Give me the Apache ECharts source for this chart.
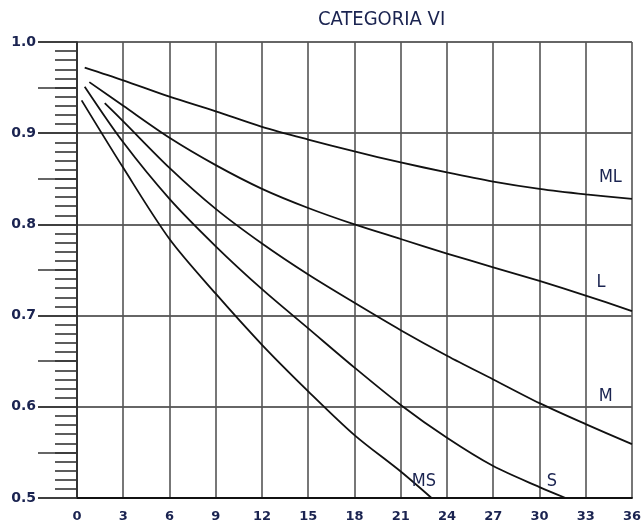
<!DOCTYPE html>
<html>
<head>
<meta charset="utf-8">
<script src="https://cdn.jsdelivr.net/npm/echarts@6/dist/echarts.min.js"></script>
<style>
  html, body { margin: 0; padding: 0; background: #fff; }
  #chart { width: 644px; height: 526px; }
</style>
</head>
<body>
<div id="chart"></div>
<script>
// curve readings [x, coefficient]
const ML = [[0.5, 0.972], [3, 0.958], [6, 0.940], [9, 0.924], [12, 0.907], [15, 0.893], [18, 0.880], [21, 0.868], [24, 0.857], [27, 0.847], [30, 0.839], [33, 0.833], [36, 0.828]];
const L = [[0.8, 0.956], [3, 0.930], [6, 0.895], [9, 0.865], [12, 0.839], [15, 0.818], [18, 0.800], [21, 0.784], [24, 0.768], [27, 0.753], [30, 0.738], [33, 0.722], [36, 0.705]];
const M = [[1.8, 0.933], [3, 0.913], [6, 0.862], [9, 0.817], [12, 0.779], [15, 0.745], [18, 0.714], [21, 0.684], [24, 0.656], [27, 0.630], [30, 0.604], [33, 0.581], [36, 0.559]];
const S = [[0.5, 0.951], [3, 0.890], [6, 0.828], [9, 0.776], [12, 0.729], [15, 0.686], [18, 0.643], [21, 0.602], [24, 0.566], [27, 0.535], [30, 0.512], [31.7, 0.5]];
const MS = [[0.3, 0.936], [3, 0.862], [6, 0.784], [9, 0.724], [12, 0.668], [15, 0.617], [18, 0.569], [21, 0.529], [23.0, 0.5]];

const curveNames = ["ML", "L", "M", "S", "MS"];
const curves = [ML, L, M, S, MS];
// where the name of each curve is written
const nameAt = [[34.6, 0.852], [34.0, 0.736], [34.3, 0.612], [30.8, 0.518], [22.5, 0.518]];

const xTicks = { min: 0, max: 36, step: 3 };
const yTicks = { min: 0.5, max: 1.0, step: 0.1 };

const navy = "#1a2350";

const chart = echarts.init(document.getElementById("chart"));

const lineSeries = curves.map((d, i) => ({
  name: curveNames[i],
  type: "line",
  data: d,
  smooth: 0.3,
  showSymbol: false,
  symbol: "none",
  lineStyle: { color: "#111", width: 1.8 },
  z: 5,
}));

chart.setOption({
  backgroundColor: "#fff",
  animation: false,
  title: {
    text: "CATEGORIA VI",
    left: 313,
    top: 5,
    textStyle: {
      fontFamily: "DejaVu Sans Condensed, DejaVu Sans",
      fontSize: 20,
      fontWeight: "normal",
      color: navy,
    },
  },
  grid: { left: 77, right: 12, top: 42, bottom: 28 },
  xAxis: {
    type: "value",
    min: xTicks.min,
    max: xTicks.max,
    interval: xTicks.step,
    axisLine: { show: true, lineStyle: { color: "#111", width: 2 } },
    axisTick: { show: false },
    axisLabel: {
      margin: 12,
      fontFamily: "DejaVu Sans",
      fontSize: 13,
      fontWeight: "bold",
      color: navy,
    },
    splitLine: { show: true, lineStyle: { color: "#555", width: 1.6 } },
  },
  yAxis: [
    {
      type: "value",
      min: yTicks.min,
      max: yTicks.max,
      interval: yTicks.step,
      axisLine: { show: true, lineStyle: { color: "#222", width: 1.6 } },
      axisTick: { show: true, length: 39, lineStyle: { color: "#333", width: 1.6 } },
      minorTick: { show: true, splitNumber: 10, length: 22, lineStyle: { color: "#333", width: 1.6 } },
      axisLabel: {
        margin: 41,
        fontFamily: "DejaVu Sans",
        fontSize: 14,
        fontWeight: "bold",
        color: navy,
        formatter: (v) => v.toFixed(1),
      },
      splitLine: { show: true, lineStyle: { color: "#333", width: 1.6 } },
    },
    {
      // longer ticks at the half steps
      type: "value",
      position: "left",
      min: yTicks.min,
      max: yTicks.max,
      interval: yTicks.step / 2,
      axisLine: { show: false },
      axisTick: { show: true, length: 39, lineStyle: { color: "#333", width: 1.6 } },
      axisLabel: { show: false },
      splitLine: { show: false },
    },
  ],
  series: [
    ...lineSeries,
    {
      type: "scatter",
      symbolSize: 0,
      itemStyle: { opacity: 1 },
      data: nameAt.map((p, i) => ({ value: p, name: curveNames[i] })),
      label: {
        show: true,
        position: "inside",
        formatter: (p) => p.name,
        fontFamily: "DejaVu Sans Condensed, DejaVu Sans",
        fontSize: 18,
        color: navy,
        opacity: 1,
      },
      z: 6,
    },
  ],
});
</script>
</body>
</html>
